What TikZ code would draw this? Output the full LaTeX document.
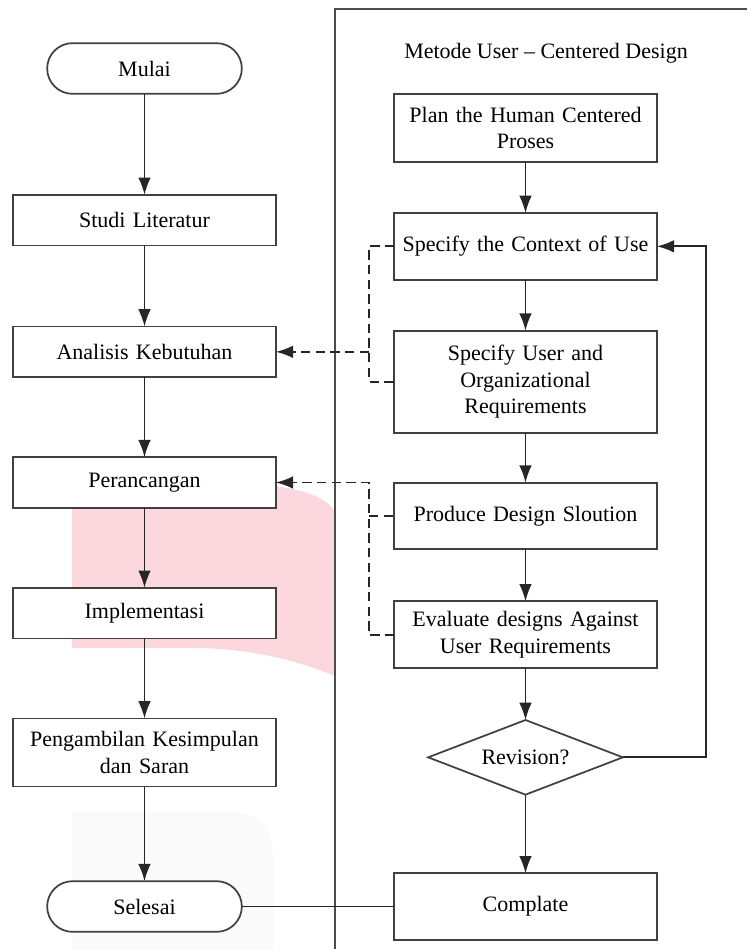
\documentclass[tikz,border=0pt]{standalone}
\usepackage{fontspec}
\setmainfont{Liberation Serif}
\usetikzlibrary{shapes,arrows.meta,positioning}
\definecolor{wmpink}{RGB}{252,216,222}
\definecolor{wmgrey}{RGB}{250,250,250}
\tikzstyle{block} = [rectangle, draw=black!75, line width=1.3pt, outer sep=0pt, fill=white, text width=185pt, inner xsep=6pt, inner ysep=2pt, text centered, minimum height=38pt]
\tikzstyle{block2} = [block, minimum height=50pt]
\tikzstyle{block3} = [block, minimum height=76.5pt]
\tikzstyle{term} = [rectangle, draw=black!75, line width=1.3pt, outer sep=0pt, fill=white, rounded corners=19pt, minimum width=146pt, minimum height=38pt, text centered]
\tikzstyle{decision} = [diamond, draw=black!75, line width=1.3pt, outer sep=0pt, fill=white, minimum width=146pt, minimum height=56pt, inner sep=0pt, aspect=2.6]
\tikzstyle{line} = [draw, black!85, line width=1.3pt, -{Latex[length=13pt,width=9.5pt]}]
\tikzstyle{plain} = [draw, black!85, line width=1.3pt]
\tikzstyle{dline} = [line, dash pattern=on 7pt off 4pt]
\tikzstyle{dplain} = [plain, dash pattern=on 7pt off 4pt]

\begin{document}
\begin{tikzpicture}[x=0.75pt, y=-0.75pt, font=\fontsize{16.5}{20}\selectfont]
    \useasboundingbox (0,0) rectangle (747,949);
    % watermark behind the left column
    \fill [wmpink] (72,485) -- (255,485) .. controls (300,486) and (328,498) .. (335,512) -- (335,676) .. controls (300,662) and (260,650) .. (200,648) -- (72,648) -- cycle;
    \fill [wmgrey] (72,812) -- (228,812) .. controls (262,812) and (273,830) .. (273,860) -- (273,949) -- (72,949) -- cycle;
    \draw [black!70, line width=1.4pt] (335,949) -- (335,9) -- (747,9);

    % left column
    \node [term] at (144.5,68.5) (mulai) {Mulai};
    \node [block, below =75.75pt of mulai] (studi) {Studi Literatur};
    \node [block, below =60.75pt of studi] (analisis) {Analisis Kebutuhan};
    \node [block, below =60pt of analisis] (rancang) {Perancangan};
    \node [block, below =60pt of rancang] (impl) {Implementasi};
    \node [block, below =60pt of impl, minimum height=51pt] (simpul) {Pengambilan Kesimpulan\\dan Saran};
    \node [term, below =71pt of simpul] (selesai) {Selesai};

    % right column
    \node at (546,53) (ucd) {Metode User -- Centered Design};
    \node [block, minimum height=51pt] at (525.5,128) (plan) {Plan the Human Centered\\Proses};
    \node [block2, below =38.25pt of plan] (context) {Specify the Context of Use};
    \node [block3, below =38.25pt of context] (req) {Specify User and\\Organizational\\Requirements};
    \node [block2, below =37.5pt of req] (produce) {Produce Design Sloution};
    \node [block2, below =39pt of produce] (evaluate) {Evaluate designs Against\\User Requirements};
    \node [decision, below =39pt of evaluate] (revision) {Revision?};
    \node [block2, below =59pt of revision] (complate) {Complate};

    \coordinate [left=19pt of context.west] (contextc);
    \coordinate [left=19pt of produce.west] (producec);

    \path [line] (mulai) -- (studi);
    \path [line] (studi) -- (analisis);
    \path [line] (analisis) -- (rancang);
    \path [line] (rancang) -- (impl);
    \path [line] (impl) -- (simpul);
    \path [line] (simpul) -- (selesai);

    \path [line] (plan) -- (context);
    \path [line] (context) -- (req);
    \path [line] (req) -- (produce);
    \path [line] (produce) -- (evaluate);
    \path [line] (evaluate) -- (revision);
    \path [line] (revision) -- (complate);
    \path [line] (revision.east) -- ++(62.25pt,0pt) |- (context.east);
    \path [plain] (selesai.east) -- (selesai.east -| complate.west);

    \path [dplain] (context.west) -| (contextc |- req.west) -- (req.west);
    \path [dline] (contextc |- analisis.east) -- (analisis.east);
    \path [dline] (evaluate.west) -| (producec |- rancang.east) -- (rancang.east);
    \path [dplain] (producec |- produce.west) -- (produce.west);
\end{tikzpicture}
\end{document}
